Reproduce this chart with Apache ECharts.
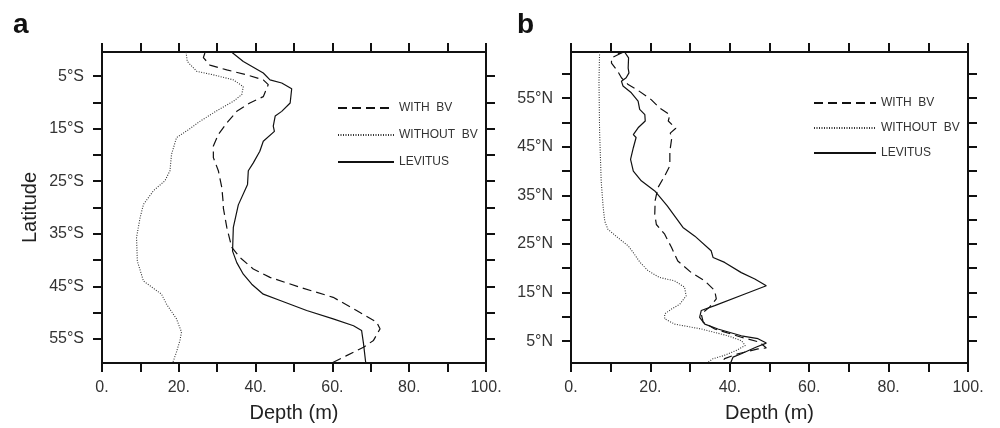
<!DOCTYPE html>
<html>
<head>
<meta charset="utf-8">
<script src="https://cdn.jsdelivr.net/npm/echarts@6.0.0/dist/echarts.min.js"></script>
<style>
html,body{margin:0;padding:0;background:#fff;}
#chart{width:1000px;height:428px;}
</style>
</head>
<body>
<div id="chart"></div>
<script>
// ---------- DATA (depth in m, latitude in degrees) ----------
const SERIES_NAMES = ['WITH  BV', 'WITHOUT  BV', 'LEVITUS'];
const DEPTH_TICKS = [0, 10, 20, 30, 40, 50, 60, 70, 80, 90, 100];
const LAT_TICKS = [5, 10, 15, 20, 25, 30, 35, 40, 45, 50, 55, 60];
const LAT_LABELS = [5, 15, 25, 35, 45, 55];

// Panel a (southern latitudes, degrees S)
const A_WITH_BV = [[26.8,0.6],[26.4,1.45],[28.1,2.9],[32.5,3.8],[37.7,4.75],[42.0,5.7],[43.3,6.6],[42.0,8.9],[38.5,10.1],[35.1,11.7],[32.5,13.9],[30.3,16.1],[29.0,18.3],[29.0,20.5],[30.3,23.0],[31.2,26.2],[31.6,29.4],[31.6,30.1],[32.5,33.8],[33.8,37.6],[35.9,39.5],[39.4,41.7],[43.75,43.3],[51.6,45.2],[60.2,47.1],[66.3,49.6],[71.5,51.8],[72.4,53.1],[70.7,55.3],[68.1,56.6],[63.7,58.2],[59.8,59.6]];
const A_WITHOUT_BV = [[21.9,0.45],[22.2,2.2],[24.7,4.1],[29.0,4.75],[34.2,5.7],[36.8,7.0],[36.4,8.5],[34.2,9.8],[30.3,11.4],[25.5,13.6],[22.5,15.2],[19.4,16.7],[18.1,19.9],[17.7,23.0],[16.4,24.9],[13.4,26.8],[10.8,29.4],[9.9,32.0],[9.0,35.7],[9.2,40.2],[10.8,44.0],[12.5,44.9],[15.5,46.5],[16.8,48.4],[19.4,51.2],[20.7,53.7],[20.3,55.3],[19.4,57.5],[18.4,59.6]];
const A_LEVITUS = [[33.8,0.45],[36.8,2.2],[42.0,4.4],[43.75,5.7],[46.8,6.3],[49.4,7.4],[49.0,10.1],[46.8,11.7],[45.1,12.6],[44.6,14.5],[44.9,15.5],[42.0,17.4],[41.1,19.3],[39.4,21.5],[38.1,23.0],[37.9,25.6],[35.5,29.5],[34.2,33.8],[34.0,38.3],[35.1,40.5],[36.8,42.7],[39.0,44.6],[42.0,46.5],[46.4,47.7],[53.3,49.6],[60.2,51.2],[65.5,52.5],[67.6,53.4],[68.1,55.9],[68.7,59.7]];

// Panel b (northern latitudes, degrees N)
const B_WITH_BV = [[12.7,64.3],[10.2,63.3],[10.2,62.2],[11.8,60.5],[12.7,59.2],[14.4,57.8],[16.9,56.6],[20.2,54.7],[22.3,53.0],[24.9,51.6],[24.5,50.3],[26.4,48.8],[25.0,47.8],[25.4,46.9],[24.9,44.1],[24.9,41.1],[23.6,39.0],[21.9,36.6],[21.2,33.9],[21.1,31.1],[21.5,29.0],[23.6,27.0],[25.3,24.3],[26.9,21.5],[30.3,19.1],[33.7,17.4],[36.2,15.4],[36.6,13.7],[34.9,12.0],[32.8,10.6],[33.3,8.9],[36.2,7.5],[42.9,5.8],[47.5,4.8],[49.2,3.6],[47.1,3.4],[42.1,2.4],[38.7,1.4],[37.9,0.5]];
const B_WITHOUT_BV = [[7.2,64.5],[7.05,58.5],[7.2,48.2],[7.6,38.0],[8.1,32.6],[8.5,29.7],[9.3,28.0],[11.8,26.3],[14.4,24.6],[15.7,23.2],[17.4,21.2],[19.4,19.5],[22.3,18.1],[26.1,17.4],[28.6,16.1],[29.0,14.3],[27.4,12.6],[25.3,11.6],[23.6,10.6],[23.6,9.6],[26.1,8.5],[32.8,7.5],[39.5,6.1],[42.9,5.1],[43.9,4.1],[41.7,3.1],[38.4,2.0],[35.8,1.4],[34.3,0.5]];
const B_LEVITUS = [[11.8,64.1],[13.5,64.5],[14.5,63.3],[14.4,61.2],[14.6,60.2],[13.9,59.2],[12.7,58.5],[13.1,57.5],[15.2,56.1],[16.9,54.4],[17.3,52.7],[18.6,51.6],[18.7,50.3],[16.9,48.9],[15.7,47.5],[16.4,46.9],[15.7,44.8],[15.0,42.4],[15.7,40.0],[17.7,38.0],[21.1,35.9],[24.2,32.9],[28.2,28.4],[31.2,26.6],[35.3,23.6],[35.8,22.2],[38.7,21.2],[42.9,19.1],[46.3,17.8],[49.2,16.4],[43.8,14.7],[36.2,12.3],[32.8,11.3],[32.4,9.9],[33.7,8.5],[37.0,7.5],[42.9,6.1],[47.1,5.5],[49.2,4.6],[46.7,3.8],[42.9,2.4],[40.8,1.7],[40.2,0.5]];

// ---------- CHART ----------
const FONT = '"Liberation Sans", Arial, Helvetica, sans-serif';
const INK = '#111';
const TXT = '#333';

function xAxes(gi) {
  const base = {
    gridIndex: gi, type: 'value', min: DEPTH_TICKS[0], max: DEPTH_TICKS[DEPTH_TICKS.length - 1], interval: 10,
    axisLine: { show: true, onZero: false, lineStyle: { color: INK, width: 2 } },
    axisTick: { show: true, inside: false, length: 9, lineStyle: { color: INK, width: 2 } },
    splitLine: { show: false }
  };
  return [
    Object.assign({}, base, {
      position: 'bottom',
      axisLabel: { show: true, margin: 17, fontSize: 16, color: TXT, fontFamily: FONT,
        formatter: v => (v % 20 === 0 ? v + '.' : '') },
      name: 'Depth (m)', nameLocation: 'middle', nameGap: 40,
      nameTextStyle: { fontSize: 20, color: '#222', fontFamily: FONT }
    }),
    Object.assign({}, base, { position: 'top', axisLabel: { show: false } })
  ];
}

function yAxes(gi, min, max, inverse, suffix, withName) {
  const base = {
    gridIndex: gi, type: 'value', min: min, max: max, inverse: inverse,
    axisLine: { show: true, onZero: false, lineStyle: { color: INK, width: 2 } },
    axisTick: { show: true, inside: false, length: 9, customValues: LAT_TICKS.filter(t => t > min && t < max),
      lineStyle: { color: INK, width: 2 } },
    splitLine: { show: false }
  };
  const left = Object.assign({}, base, {
    position: 'left',
    axisLabel: { show: true, margin: 18, fontSize: 16, color: TXT, fontFamily: FONT,
      customValues: LAT_LABELS, formatter: v => v + '°' + suffix }
  });
  if (withName) {
    Object.assign(left, {
      name: 'Latitude', nameLocation: 'middle', nameGap: 62,
      nameTextStyle: { fontSize: 20, color: '#222', fontFamily: FONT }
    });
  }
  const right = Object.assign({}, base, { position: 'right', axisLabel: { show: false } });
  return [left, right];
}

function lineSeries(name, data, gi, style) {
  return {
    name: name, type: 'line', data: data,
    xAxisIndex: gi * 2, yAxisIndex: gi * 2,
    symbol: 'none', smooth: false, animation: false,
    lineStyle: style
  };
}

const dashed = { color: '#111', width: 1.2, type: [9, 5] };
const dotted = { color: '#333', width: 1.1, type: [1, 1.5] };
const solid = { color: '#111', width: 1.2, type: 'solid' };

const legendBase = {
  orient: 'vertical', data: SERIES_NAMES,
  textStyle: { fontSize: 12, color: TXT, fontFamily: FONT },
  itemStyle: { color: 'transparent', borderWidth: 0, opacity: 0 },
  selectedMode: false
};

const option = {
  backgroundColor: '#fff',
  animation: false,
  title: [
    { text: 'a', left: 8, top: 6, textStyle: { fontSize: 28, fontWeight: 'bold', color: '#111', fontFamily: FONT } },
    { text: 'b', left: 512, top: 6, textStyle: { fontSize: 28, fontWeight: 'bold', color: '#111', fontFamily: FONT } }
  ],
  grid: [
    { left: 102, top: 52, width: 384, height: 312, containLabel: false },
    { left: 571, top: 52, width: 397, height: 312, containLabel: false }
  ],
  xAxis: [].concat(xAxes(0), xAxes(1)),
  yAxis: [].concat(yAxes(0, 0.4, 59.6, true, 'S', true), yAxes(1, 0.5, 64.5, false, 'N', false)),
  legend: [
    Object.assign({}, legendBase, { left: 332, top: 97, itemWidth: 56, itemHeight: 12, itemGap: 15 }),
    Object.assign({}, legendBase, { left: 808, top: 92, itemWidth: 62, itemHeight: 12, itemGap: 13 })
  ],
  series: [
    lineSeries(SERIES_NAMES[0], A_WITH_BV, 0, dashed),
    lineSeries(SERIES_NAMES[1], A_WITHOUT_BV, 0, dotted),
    lineSeries(SERIES_NAMES[2], A_LEVITUS, 0, solid),
    lineSeries(SERIES_NAMES[0], B_WITH_BV, 1, dashed),
    lineSeries(SERIES_NAMES[1], B_WITHOUT_BV, 1, dotted),
    lineSeries(SERIES_NAMES[2], B_LEVITUS, 1, solid)
  ]
};

const chart = echarts.init(document.getElementById('chart'), null, { renderer: 'canvas' });
chart.setOption(option);
</script>
</body>
</html>
